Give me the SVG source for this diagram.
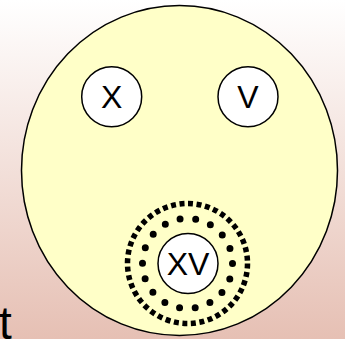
<svg xmlns="http://www.w3.org/2000/svg" width="345" height="339" viewBox="0 0 345 339">
<defs>
<linearGradient id="bg" x1="0" y1="0" x2="0" y2="1">
<stop offset="0" stop-color="#ffffff"/>
<stop offset="1" stop-color="#e6c0b4"/>
</linearGradient>
<style>
.node{fill:#ffffff;stroke:#000000;stroke-width:1.5}
.lbl{font-family:"Liberation Sans",Arial,sans-serif;font-size:32px;fill:#000000;text-anchor:middle}
</style>
</defs>
<rect x="0" y="0" width="345" height="339" fill="url(#bg)"/>
<text x="-1" y="339" font-family="Liberation Sans, Arial, sans-serif" font-size="46" fill="#000">t</text>
<g id="region">
<ellipse cx="179.5" cy="170.5" rx="158" ry="165" fill="#ffffc8" stroke="#000" stroke-width="1.5"/>
</g>
<g id="rings">
<circle cx="187.5" cy="263.5" r="60" fill="none" stroke="#000" stroke-width="5.5" stroke-dasharray="5 3.57"/>
<circle cx="187.5" cy="263.5" r="45" fill="none" stroke="#000" stroke-width="7" stroke-linecap="round" stroke-dasharray="0 15.71"/>
</g>
<g id="node-X">
<circle class="node" cx="111.7" cy="96.7" r="30"/>
<text class="lbl" x="111.7" y="108">X</text>
</g>
<g id="node-V">
<circle class="node" cx="248" cy="96.7" r="30"/>
<text class="lbl" x="248" y="108">V</text>
</g>
<g id="node-XV">
<circle class="node" cx="188" cy="263.5" r="30"/>
<text class="lbl" x="188" y="275">XV</text>
</g>
<g id="connectors"></g>
</svg>
